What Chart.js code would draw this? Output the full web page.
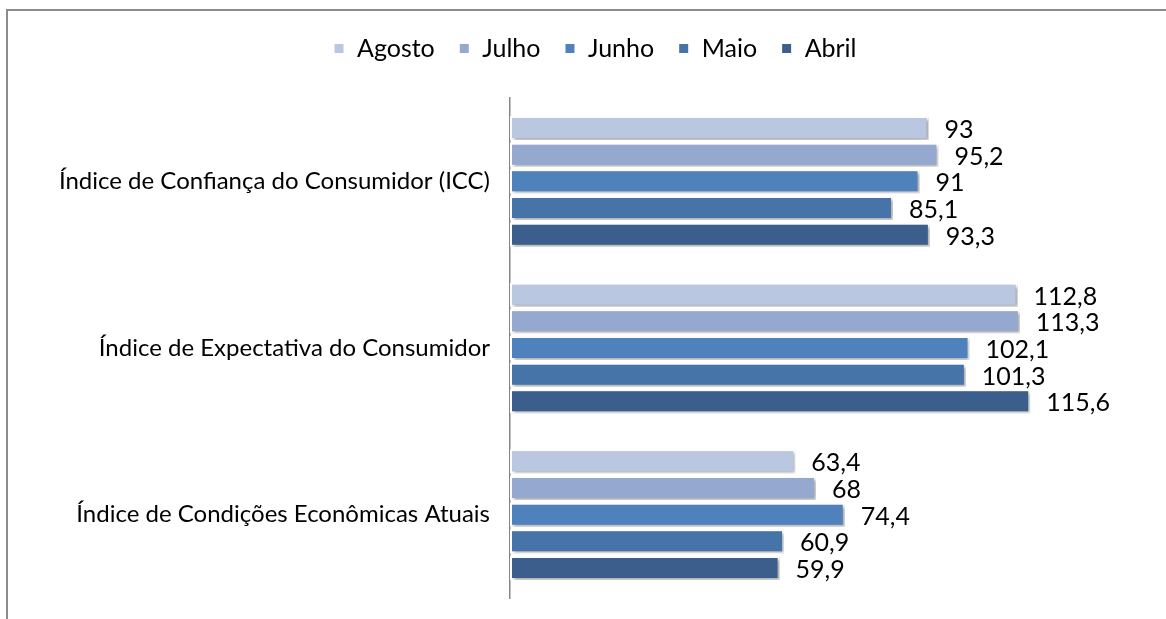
<!DOCTYPE html>
<html>
<head>
<meta charset="utf-8">
<script src="https://cdn.jsdelivr.net/npm/chart.js@4"></script>
<style>
  html, body { margin: 0; padding: 0; background: #fff; }
  #wrap { position: absolute; left: 0; top: 0; width: 1166px; height: 619px; }
  #frame { position: absolute; left: 6px; top: 9px; width: 1170px; height: 620px;
           border-left: 2px solid #8c8c8c; border-top: 2px solid #8c8c8c; }
  canvas { display: block; position: absolute; left: 0; top: 0; }
</style>
</head>
<body>
<div id="wrap">
  <div id="frame"></div>
  <canvas id="chart" width="1166" height="619"></canvas>
</div>
<script>
// categories and series
const categories = [
    'Índice de Confiança do Consumidor (ICC)',
    'Índice de Expectativa do Consumidor',
    'Índice de Condições Econômicas Atuais'
];
const seriesNames = ['Agosto', 'Julho', 'Junho', 'Maio', 'Abril'];
const agosto = [93, 112.8, 63.4];
const julho = [95.2, 113.3, 68];
const junho = [91, 102.1, 74.4];
const maio = [85.1, 101.3, 60.9];
const abril = [93.3, 115.6, 59.9];
const colors = ['#B9C7E0', '#95A9D0', '#4F81BD', '#4674A8', '#3B5E8C'];

const FONT = 'Lato, "Open Sans", sans-serif';

// extra room under the legend, and legend nudged right like the original
const legendGap = {
    id: 'legendGap',
    beforeInit(chart) {
        const fit = chart.legend.fit;
        chart.legend.fit = function () {
            fit.bind(chart.legend)();
            this.height += 27;
        };
    },
    afterLayout(chart) {
        chart.legend.left += 20;
        chart.legend.right += 20;
    }
};

const shadowPlugin = {
    id: 'barShadow',
    beforeDatasetsDraw(chart) {
        const ctx = chart.ctx;
        ctx.save();
        ctx.shadowColor = 'rgba(0,0,0,0.35)';
        ctx.shadowBlur = 3;
        ctx.shadowOffsetX = 2;
        ctx.shadowOffsetY = 2;
    },
    afterDatasetsDraw(chart) {
        chart.ctx.restore();
    }
};

const labelPlugin = {
    id: 'valueLabels',
    afterDatasetsDraw(chart) {
        const ctx = chart.ctx;
        ctx.save();
        ctx.font = '25px ' + FONT;
        ctx.fillStyle = '#000';
        ctx.textBaseline = 'middle';
        ctx.textAlign = 'left';
        chart.data.datasets.forEach((ds, i) => {
            chart.getDatasetMeta(i).data.forEach((bar, j) => {
                const txt = String(ds.data[j]).replace('.', ',');
                ctx.fillText(txt, bar.x + 16, bar.y + 2);
            });
        });
        ctx.restore();
    }
};

new Chart(document.getElementById('chart').getContext('2d'), {
    type: 'bar',
    data: {
        labels: categories,
        datasets: [agosto, julho, junho, maio, abril].map((d, i) => ({
            label: seriesNames[i],
            data: d,
            backgroundColor: colors[i],
            borderColor: '#ffffff',
            borderWidth: 2,
            borderSkipped: false,
            categoryPercentage: 0.8,
            barPercentage: 0.9
        }))
    },
    options: {
        indexAxis: 'y',
        responsive: false,
        animation: false,
        layout: { padding: { left: 10, right: 26, top: 12, bottom: 21 } },
        plugins: {
            tooltip: { enabled: false },
            legend: {
                position: 'top',
                labels: {
                    font: { family: FONT, size: 25 },
                    color: '#000',
                    boxWidth: 11,
                    boxHeight: 11,
                    padding: 24,
                    useBorderRadius: false
                }
            }
        },
        scales: {
            x: {
                display: false,
                min: 0,
                max: 140
            },
            y: {
                grid: { display: false, drawTicks: false },
                border: { display: true, color: '#868686', width: 1.5 },
                ticks: {
                    font: { family: FONT, size: 24 },
                    color: '#000',
                    padding: 20
                },
                afterFit(scale) {
                    scale.width = 500;
                    scale.paddingTop = 0;
                    scale.paddingBottom = 0;
                }
            }
        }
    },
    plugins: [legendGap, shadowPlugin, labelPlugin]
});
</script>
</body>
</html>
